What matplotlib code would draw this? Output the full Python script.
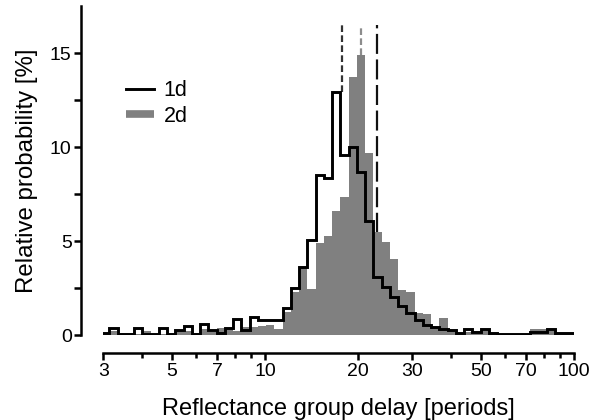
import numpy as np
import matplotlib
matplotlib.use("Agg")
import matplotlib.pyplot as plt
from matplotlib.lines import Line2D
from matplotlib.ticker import FixedLocator, NullFormatter, FixedFormatter

plt.rcParams['font.family'] = ['Liberation Sans', 'DejaVu Sans']

# log-spaced bins (first and last bins are clipped by the axis range)
bin_start = 2.953
bin_ratio = 10 ** 0.02669
n_bins = 58
bin_edges = bin_start * bin_ratio ** np.arange(n_bins + 1)

# 1d histogram (%)
p_1d = [0.10, 0.35, 0.03, 0.03, 0.35, 0.03, 0.03, 0.35, 0.03, 0.27,
        0.48, 0.03, 0.58, 0.27, 0.10, 0.35, 0.83, 0.27, 0.94, 0.80,
        0.80, 0.80, 1.42, 2.48, 3.63, 5.05, 8.50, 8.35, 12.90, 9.57,
        10.00, 8.69, 6.08, 3.10, 2.57, 2.00, 1.54, 1.15, 0.80, 0.53,
        0.41, 0.30, 0.28, 0.12, 0.32, 0.15, 0.30, 0.12, 0.03, 0.03,
        0.03, 0.03, 0.18, 0.18, 0.30, 0.09, 0.09, 0.09]
# 2d histogram (%)
p_2d = [0.05, 0.20, 0.12, 0.12, 0.05, 0.20, 0.05, 0.05, 0.05, 0.20,
        0.20, 0.10, 0.30, 0.15, 0.35, 0.35, 0.20, 0.40, 0.44, 0.50,
        0.53, 0.30, 1.24, 2.30, 3.55, 2.45, 4.90, 5.25, 6.60, 7.36,
        13.70, 14.90, 9.70, 5.50, 4.96, 4.05, 2.40, 2.30, 1.15, 1.10,
        0.40, 0.90, 0.20, 0.12, 0.15, 0.22, 0.22, 0.05, 0.03, 0.03,
        0.03, 0.03, 0.30, 0.30, 0.20, 0.05, 0.03, 0.03]

# marker lines: position, lower end, colour, dash pattern
mark_x = [17.7, 20.4, 23.0]
mark_ymin = [12.9, 14.9, 0.0]
mark_colors = ['#333333', '#8c8c8c', '#111111']
mark_dashes = [(3, 1.5), (3, 1.5), (9, 2.5)]
mark_top = 16.5

xticks_major = [3, 5, 7, 10, 20, 30, 50, 70, 100]
xticks_minor = [4, 6, 8, 9, 40, 60, 80, 90]
yticks_major = [0, 5, 10, 15]
yticks_minor = [2.5, 7.5, 12.5]

fig = plt.figure(figsize=(5.89, 4.20), dpi=100)
ax = fig.add_axes([103.3 / 589, (420 - 335) / 420, (574 - 103.3) / 589, (335 - 6) / 420])

ax.stairs(p_2d, bin_edges, fill=True, color='#808080', linewidth=0, zorder=2)
ax.stairs(p_1d, bin_edges, baseline=None, color='black', linewidth=2.1, zorder=3)

for x, y0, c, d in zip(mark_x, mark_ymin, mark_colors, mark_dashes):
    ax.plot([x, x], [y0, mark_top], color=c, linewidth=1.6, dashes=d, zorder=1)

ax.set_xscale('log')
ax.set_xlim(3, 100)
ax.set_ylim(0, 17.5)

for s in ['top', 'right']:
    ax.spines[s].set_visible(False)
ax.spines['left'].set_position(('outward', 15.8))
ax.spines['bottom'].set_position(('outward', 13.3))
ax.spines['left'].set_bounds(0, 17.5)
ax.spines['bottom'].set_bounds(3, 100)
for s in ['left', 'bottom']:
    ax.spines[s].set_linewidth(1.8)

ax.xaxis.set_major_locator(FixedLocator(xticks_major))
ax.xaxis.set_major_formatter(FixedFormatter([str(v) for v in xticks_major]))
ax.xaxis.set_minor_locator(FixedLocator(xticks_minor))
ax.xaxis.set_minor_formatter(NullFormatter())
ax.yaxis.set_major_locator(FixedLocator(yticks_major))
ax.yaxis.set_minor_locator(FixedLocator(yticks_minor))

ax.tick_params(axis='both', which='major', length=5, width=1.8, labelsize=14, pad=2)
ax.tick_params(axis='x', which='major', pad=1.5)
ax.tick_params(axis='both', which='minor', length=3.5, width=1.8)
ax.tick_params(axis='y', which='minor', length=5)

ax.set_xlabel('Reflectance group delay [periods]', fontsize=17, labelpad=13)
ax.set_ylabel('Relative probability [%]', fontsize=17.3, labelpad=8.5)

handles = [Line2D([], [], color='black', linewidth=2.1),
           Line2D([], [], color='#808080', linewidth=5.5, solid_capstyle='butt')]
ax.legend(handles, ['1d', '2d'], loc='upper left', bbox_to_anchor=(0.03, 0.80),
          frameon=False, fontsize=15.5, handlelength=1.3, handletextpad=0.45,
          labelspacing=0.2, borderaxespad=0)

fig.savefig('out.png', dpi=100)
